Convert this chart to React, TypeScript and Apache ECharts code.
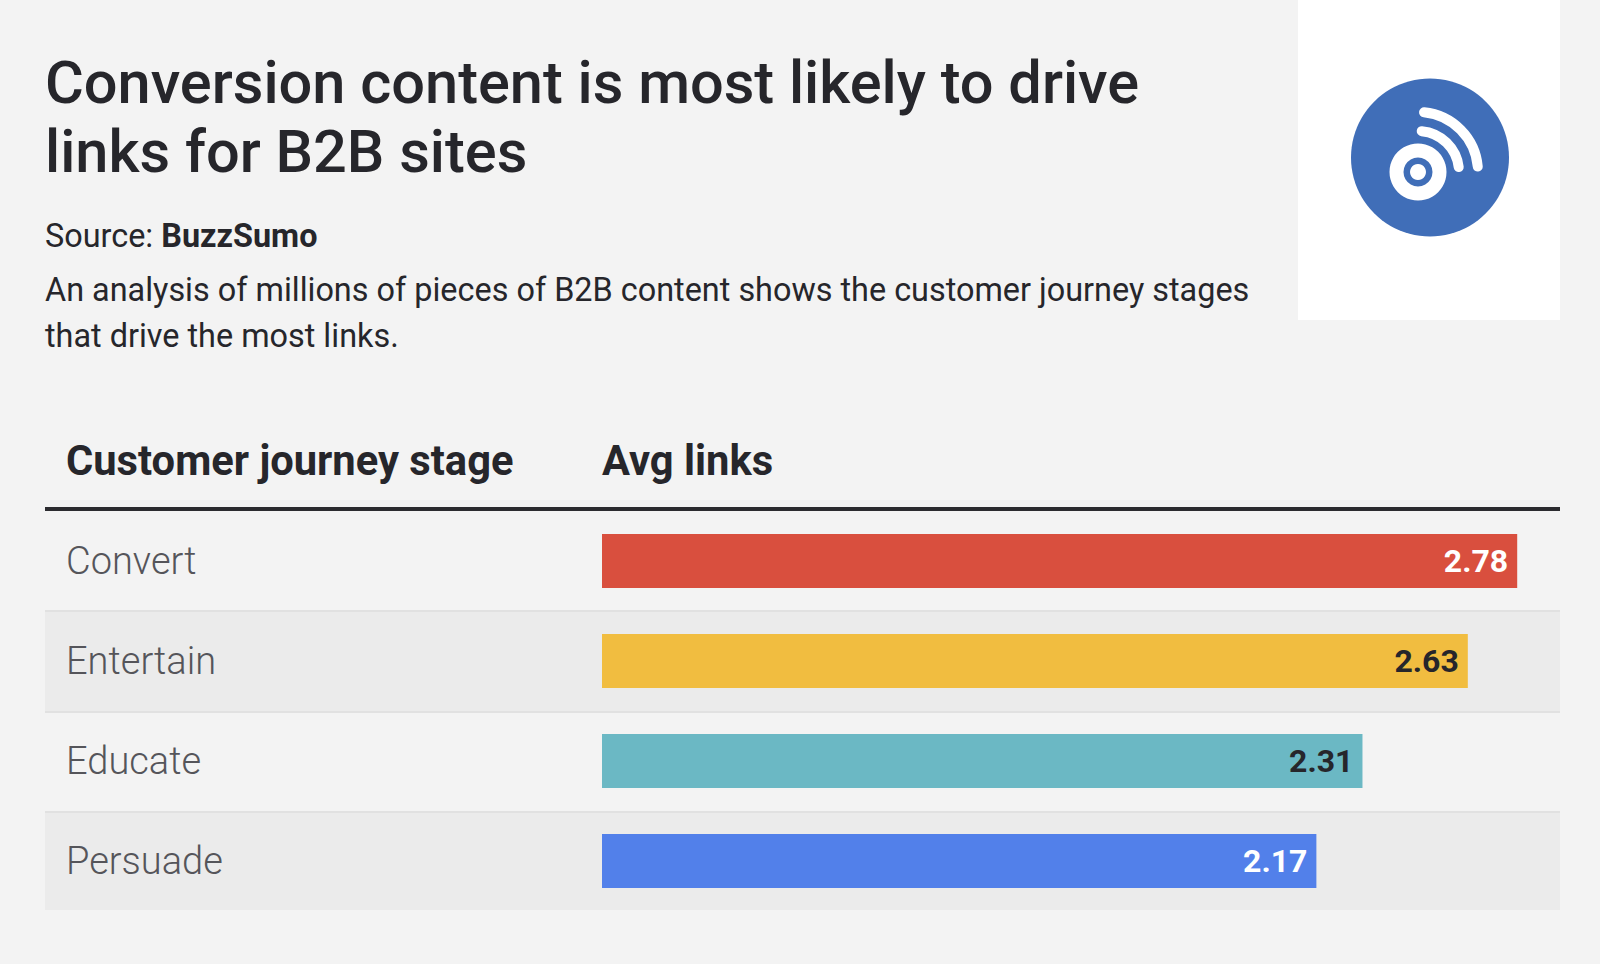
import React, { useEffect, useRef } from "react";
import * as echarts from "echarts";

const stages = ["Convert", "Entertain", "Educate", "Persuade"];
const avgLinks = [2.78, 2.63, 2.31, 2.17];
const barColors = ["#d94f3e", "#f1bd40", "#6bb8c4", "#5280ea"];
const labelColors = ["#ffffff", "#26262b", "#26262b", "#ffffff"];
const titleLines = "Conversion content is most likely to drive\nlinks for B2B sites";
const descriptionLines = "An analysis of millions of pieces of B2B content shows the customer journey stages\nthat drive the most links.";
const FONT = "Roboto";
const INK = "#26262b";

export default function App() {
  const ref = useRef<HTMLDivElement>(null);
  useEffect(() => {
    document.body.style.margin = "0";
    document.body.style.background = "#ffffff";
    const chart = echarts.init(ref.current!, undefined, { renderer: "svg" });
    const cx = 1418, cy = 172;
    chart.setOption({
      animation: false,
      backgroundColor: "#ffffff",
      textStyle: { fontFamily: FONT },
      title: {
        text: titleLines,
        left: 45,
        top: 48,
        padding: 0,
        textStyle: { fontFamily: FONT, fontSize: 59.5, fontWeight: 500, color: INK, lineHeight: 69 },
      },
      grid: { left: 602, top: 511, width: 958, height: 400, containLabel: false },
      xAxis: { type: "value", min: 0, max: 2.91, show: false },
      yAxis: {
        type: "category",
        data: stages,
        inverse: true,
        axisLine: { show: false },
        axisTick: { show: false },
        axisLabel: {
          align: "left",
          margin: 536,
          padding: [2, 0, 0, 0],
          fontFamily: FONT,
          fontSize: 38,
          fontWeight: 300,
          color: "#55555a",
        },
      },
      series: [
        {
          type: "bar",
          barWidth: 54,
          z: 5,
          data: avgLinks.map((value, i) => ({
            value,
            itemStyle: { color: barColors[i] },
            label: { color: labelColors[i] },
          })),
          label: {
            show: true,
            position: "insideRight",
            distance: 9,
            fontFamily: FONT,
            fontSize: 32,
            fontWeight: 700,
            formatter: (p: any) => Number(p.value).toFixed(2),
          },
        },
      ],
      graphic: [
        { type: "rect", z: -10, silent: true, shape: { x: 0, y: 0, width: 1600, height: 964 }, style: { fill: "#f3f3f3" } },
        { type: "rect", z: -9, silent: true, shape: { x: 1298, y: 0, width: 262, height: 320 }, style: { fill: "#ffffff" } },
        { type: "circle", z: -8, shape: { cx: 1430, cy: 157.5, r: 79 }, style: { fill: "#406eb8" } },
        { type: "circle", z: -7, shape: { cx, cy, r: 28.5 }, style: { fill: "#ffffff" } },
        { type: "ring", z: -6, shape: { cx, cy, r: 14.5, r0: 8 }, style: { fill: "#406eb8" } },
        { type: "arc", z: -7, shape: { cx, cy, r: 41, startAngle: -1.48, endAngle: -0.12, clockwise: true }, style: { stroke: "#ffffff", fill: "none", lineWidth: 10, lineCap: "round" } },
        { type: "arc", z: -7, shape: { cx, cy, r: 60, startAngle: -1.47, endAngle: -0.09, clockwise: true }, style: { stroke: "#ffffff", fill: "none", lineWidth: 10, lineCap: "round" } },
        { type: "rect", z: -7, silent: true, shape: { x: 45, y: 611, width: 1515, height: 101 }, style: { fill: "#ebebeb" } },
        { type: "rect", z: -7, silent: true, shape: { x: 45, y: 811, width: 1515, height: 99 }, style: { fill: "#ebebeb" } },
        { type: "rect", z: -6, silent: true, shape: { x: 45, y: 610, width: 1515, height: 2 }, style: { fill: "#e1e1e1" } },
        { type: "rect", z: -6, silent: true, shape: { x: 45, y: 711, width: 1515, height: 2 }, style: { fill: "#e1e1e1" } },
        { type: "rect", z: -6, silent: true, shape: { x: 45, y: 811, width: 1515, height: 2 }, style: { fill: "#e1e1e1" } },
        { type: "rect", z: -6, silent: true, shape: { x: 45, y: 507, width: 1515, height: 4 }, style: { fill: "#2b2b2f" } },
        {
          type: "text", x: 45, y: 236, style: {
            text: "{a|Source: }{b|BuzzSumo}", verticalAlign: "middle",
            rich: {
              a: { fontFamily: FONT, fontSize: 32.4, fontWeight: 400, fill: INK, color: INK },
              b: { fontFamily: FONT, fontSize: 32.4, fontWeight: 700, fill: INK, color: INK },
            },
          },
        },
        {
          type: "text", x: 45, y: 267, style: {
            text: descriptionLines, fontFamily: FONT, fontSize: 32.4, fontWeight: 400, fill: INK, lineHeight: 46,
          },
        },
        { type: "text", x: 66, y: 460, style: { text: "Customer journey stage", fontFamily: FONT, fontSize: 41.7, fontWeight: 700, fill: INK, verticalAlign: "middle" } },
        { type: "text", x: 602, y: 460, style: { text: "Avg links", fontFamily: FONT, fontSize: 41.7, fontWeight: 700, fill: INK, verticalAlign: "middle" } },
      ],
    });
    return () => chart.dispose();
  }, []);
  return <div ref={ref} style={{ width: 1600, height: 972 }} />;
}
